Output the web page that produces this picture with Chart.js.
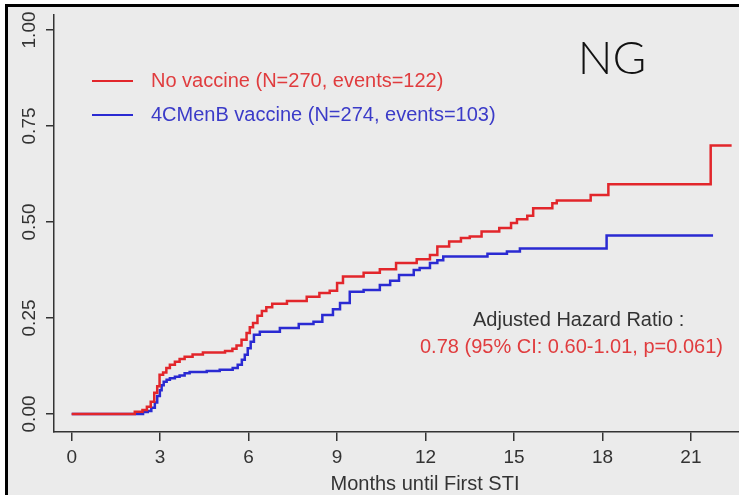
<!DOCTYPE html>
<html>
<head>
<meta charset="utf-8">
<script src="https://cdn.jsdelivr.net/npm/chart.js@4.4.1/dist/chart.umd.min.js"></script>
<style>
  html, body { margin: 0; padding: 0; background: #fff; }
  canvas { display: block; }
</style>
</head>
<body>
<canvas id="kmChart" width="739" height="495"></canvas>
<script>
// months at which each curve steps, and the cumulative proportion after the step
const noVacMonths = [0, 2.14, 2.4, 2.55, 2.68, 2.8, 2.9, 2.98, 3.1, 3.21, 3.33, 3.5, 3.66, 3.83, 4.1, 4.45,
  5.2, 5.45, 5.59, 5.76, 5.93, 6.04, 6.15, 6.3, 6.45, 6.6, 6.8, 7.3, 7.97, 8.4, 8.75, 9.0, 9.2, 9.9,
  10.45, 11.0, 11.7, 12.15, 12.4, 12.8, 13.2, 13.5, 13.9, 14.5, 14.9, 15.1, 15.45, 15.65, 16.3, 16.45,
  17.6, 18.2, 21.67, 22.38];
const noVacValues = [0, 0.006, 0.01, 0.019, 0.032, 0.055, 0.072, 0.102, 0.108, 0.12, 0.128, 0.136, 0.143, 0.149, 0.155, 0.16,
  0.164, 0.17, 0.178, 0.193, 0.211, 0.226, 0.237, 0.256, 0.268, 0.278, 0.287, 0.294, 0.305, 0.315, 0.321, 0.341, 0.358, 0.368,
  0.377, 0.393, 0.403, 0.414, 0.436, 0.449, 0.458, 0.462, 0.475, 0.484, 0.497, 0.507, 0.516, 0.536, 0.549, 0.556,
  0.57, 0.598, 0.699, 0.699];

const menBMonths = [0, 2.42, 2.58, 2.7, 2.82, 2.9, 2.99, 3.05, 3.12, 3.22, 3.33, 3.5, 3.66, 3.83, 4.0, 4.58,
  5.02, 5.46, 5.63, 5.77, 5.87, 5.97, 6.07, 6.18, 6.38, 7.06, 7.7, 8.2, 8.5, 8.86, 9.1, 9.43, 9.9,
  10.45, 10.8, 11.1, 11.6, 11.8, 12.15, 12.4, 12.6, 14.1, 14.76, 15.2, 18.14, 21.75];
const menBValues = [0, 0.005, 0.008, 0.016, 0.03, 0.047, 0.062, 0.075, 0.084, 0.089, 0.093, 0.097, 0.1, 0.106, 0.109, 0.112,
  0.115, 0.12, 0.128, 0.141, 0.154, 0.171, 0.188, 0.206, 0.214, 0.224, 0.234, 0.24, 0.258, 0.273, 0.289, 0.318, 0.323,
  0.336, 0.347, 0.362, 0.375, 0.38, 0.393, 0.4, 0.41, 0.417, 0.423, 0.431, 0.465, 0.465];

const seriesLabels = ["No vaccine (N=270, events=122)", "4CMenB vaccine (N=274, events=103)"];
const xTickValues = [0, 3, 6, 9, 12, 15, 18, 21];
const yTickValues = [0, 0.25, 0.5, 0.75, 1];
const yTickLabels = ["0.00", "0.25", "0.50", "0.75", "1.00"];

const RED = "#e2262b";
const BLUE = "#2a2ad2";
const FONT = "'Liberation Sans', Arial, sans-serif";

function toPoints(xs, ys) {
  return xs.map((x, i) => ({ x: x, y: ys[i] }));
}

const decor = {
  id: "decor",
  beforeDraw(chart) {
    const c = chart.ctx;
    c.save();
    c.fillStyle = "#ffffff";
    c.fillRect(0, 0, chart.width, chart.height);
    c.fillStyle = "#ebebeb";
    c.fillRect(8, 7, chart.width - 8, chart.height - 7);
    c.fillStyle = "#000";
    c.fillRect(5, 4, chart.width - 5, 3);
    c.fillRect(5, 4, 3, chart.height - 4);
    c.restore();
  },
  afterDraw(chart) {
    const c = chart.ctx;
    const ys = chart.scales.y;
    c.save();
    // y tick labels, rotated like base R
    c.fillStyle = "#333";
    c.font = "19px " + FONT;
    c.textAlign = "center";
    c.textBaseline = "middle";
    yTickValues.forEach((v, i) => {
      c.save();
      c.translate(30, ys.getPixelForValue(v));
      c.rotate(-Math.PI / 2);
      c.fillText(yTickLabels[i], 0, 0);
      c.restore();
    });

    // x axis title
    c.font = "20px " + FONT;
    c.fillText("Months until First STI", 425, 484);

    // legend
    const cols = [RED, BLUE];
    const txtCols = ["#e03c3e", "#3b3bc8"];
    c.textAlign = "left";
    [81, 115].forEach((y, i) => {
      c.strokeStyle = cols[i];
      c.lineWidth = 2;
      c.beginPath();
      c.moveTo(92, y);
      c.lineTo(133, y);
      c.stroke();
      c.fillStyle = txtCols[i];
      c.fillText(seriesLabels[i], 151, y);
    });

    // hazard ratio note
    c.fillStyle = "#333";
    c.fillText("Adjusted Hazard Ratio :", 473, 320);
    c.fillStyle = "#e03c3e";
    c.fillText("0.78 (95% CI: 0.60-1.01, p=0.061)", 420, 347);

    // panel label
    c.fillStyle = "#111";
    c.textAlign = "center";
    c.font = "300 46px Lato, 'Open Sans', sans-serif";
    c.fillText("NG", 612, 59);
    c.restore();
  }
};

new Chart(document.getElementById("kmChart"), {
  type: "line",
  data: {
    datasets: [
      {
        label: seriesLabels[0],
        data: toPoints(noVacMonths, noVacValues),
        borderColor: RED,
        borderWidth: 2.5,
        stepped: "before",
        pointRadius: 0,
        fill: false,
      },
      {
        label: seriesLabels[1],
        data: toPoints(menBMonths, menBValues),
        borderColor: BLUE,
        borderWidth: 2.5,
        stepped: "before",
        pointRadius: 0,
        fill: false,
      },
    ],
  },
  options: {
    responsive: false,
    animation: false,
    devicePixelRatio: 1,
    layout: { padding: { top: 15, right: 0, left: 0, bottom: 0 } },
    plugins: {
      legend: { display: false },
      tooltip: { enabled: false },
    },
    scales: {
      x: {
        type: "linear",
        min: -0.6,
        max: 22.63,
        afterBuildTicks: (s) => { s.ticks = xTickValues.map((v) => ({ value: v })); },
        afterFit: (s) => { s.height = 63; },
        border: { display: true, color: "#333", width: 1.5 },
        grid: { drawOnChartArea: false, drawTicks: true, tickLength: 9, color: "#333", lineWidth: 1.5 },
        ticks: {
          color: "#333",
          font: { family: FONT, size: 19 },
          padding: 5,
          maxRotation: 0,
          autoSkip: false,
        },
      },
      y: {
        type: "linear",
        min: -0.047,
        max: 1.039,
        afterBuildTicks: (s) => { s.ticks = yTickValues.map((v) => ({ value: v })); },
        afterFit: (s) => { s.width = 54; },
        border: { display: true, color: "#333", width: 1.5 },
        grid: { drawOnChartArea: false, drawTicks: true, tickLength: 8, color: "#333", lineWidth: 1.5 },
        ticks: { display: false },
      },
    },
  },
  plugins: [decor],
});
</script>
</body>
</html>
